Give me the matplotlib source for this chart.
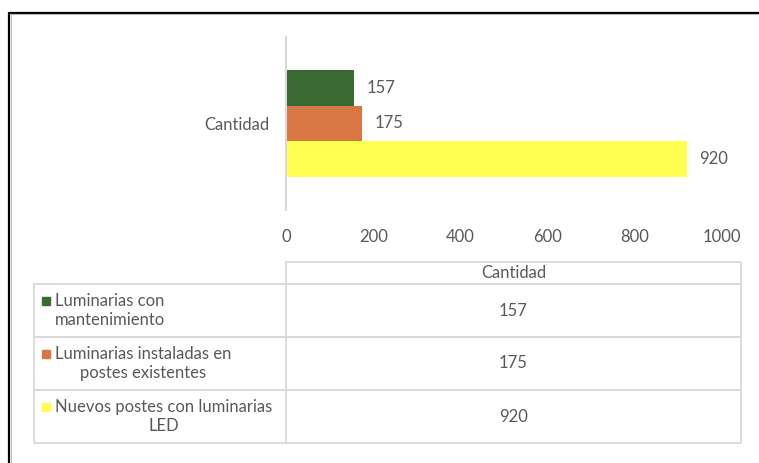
import matplotlib.pyplot as plt
from matplotlib.patches import Rectangle

# Datos
series = ['Luminarias con\nmantenimiento',
          'Luminarias instaladas en\npostes existentes',
          'Nuevos postes con luminarias\nLED']
valores = [157, 175, 920]
colores = ['#386A31', '#D87743', '#FFFF50']
categoria = 'Cantidad'
ticks_x = [0, 200, 400, 600, 800, 1000]

plt.rcParams['font.family'] = ['Lato', 'DejaVu Sans']
gris = '#595959'
linea = '#D9D9D9'
fs = 12
W, H = 759, 463

fig = plt.figure(figsize=(W / 100, H / 100), dpi=100)

# Capa de fondo en coordenadas de pixel (marco y tabla)
bg = fig.add_axes([0, 0, 1, 1])
bg.set_xlim(0, W)
bg.set_ylim(H, 0)
bg.axis('off')

# Marco
bg.plot([9, W], [12.5, 12.5], color='black', lw=1.6, solid_capstyle='butt')
bg.plot([9, 9], [12, H], color='black', lw=1.6, solid_capstyle='butt')
bg.plot([10.5, W], [14.3, 14.3], color='#BFBFBF', lw=0.8)
bg.plot([10.8, 10.8], [14, H], color='#BFBFBF', lw=0.8)

# Grafico de barras
ax = fig.add_axes([286 / W, 1 - 210 / H, (722 - 286) / W, (210 - 37) / H])
alto = 0.208
for i, (v, c) in enumerate(zip(valores, colores)):
    y = (1 - i) * alto
    ax.barh(y, v, height=alto, color=c)
    ax.annotate(str(v), xy=(v, y), xytext=(9, 0), textcoords='offset points',
                va='center', ha='left', fontsize=fs, color=gris)

ax.set_xlim(0, 1000)
ax.set_ylim(-0.5, 0.5)
ax.set_xticks(ticks_x)
ax.set_xticklabels([str(t) for t in ticks_x], fontsize=fs, color=gris)
ax.tick_params(axis='x', length=0, pad=14)
ax.set_yticks([0])
ax.set_yticklabels([categoria], fontsize=fs, color=gris)
ax.tick_params(axis='y', length=0, pad=12)
for s in ['top', 'right', 'bottom']:
    ax.spines[s].set_visible(False)
ax.spines['left'].set_color(linea)
ax.spines['left'].set_linewidth(1.5)
ax.patch.set_alpha(0)

# Tabla de datos
x0, x1, x2 = 34, 286, 741
filas = [262, 284, 337, 390, 443]
lw = 1.3
bg.plot([x1, x2, x2, x1, x1], [filas[0], filas[0], filas[1], filas[1], filas[0]],
        color=linea, lw=lw)
for j in range(1, 4):
    ya, yb = filas[j], filas[j + 1]
    bg.plot([x0, x2, x2, x0, x0], [ya, ya, yb, yb, ya], color=linea, lw=lw)
    bg.plot([x1, x1], [ya, yb], color=linea, lw=lw)
bg.text((x1 + x2) / 2, (filas[0] + filas[1]) / 2, categoria, ha='center',
        va='center', fontsize=fs, color=gris)
for j, (nombre, v, c) in enumerate(zip(series, valores, colores)):
    ya, yb = filas[j + 1], filas[j + 2]
    yc = (ya + yb) / 2
    bg.text(55, yc, nombre, ha='left', va='center', multialignment='center',
            fontsize=fs, color=gris, linespacing=1.25)
    bg.add_patch(Rectangle((42, yc - 14), 8, 8, color=c))
    bg.text((x1 + x2) / 2, yc, str(v), ha='center', va='center',
            fontsize=fs, color=gris)

fig.savefig('out.png', dpi=100)
